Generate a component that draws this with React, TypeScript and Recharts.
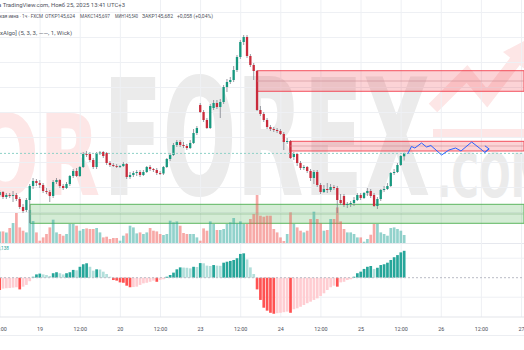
import React from "react";
import {
  ComposedChart,
  Bar,
  Line,
  XAxis,
  YAxis,
  CartesianGrid,
  ReferenceArea,
  ReferenceLine,
  Cell,
} from "recharts";

// ---------- hourly candles (index 0 = 18 Nov 12:00) ----------
const opens = [
  144.85, 144.91, 144.81, 144.85, 144.84, 144.85, 144.77, 144.61, 144.55, 144.75,
  145.03, 145.13, 145.09, 145.05, 144.93, 144.91, 144.83, 145.11, 145.15, 145.03,
  144.99, 145.07, 145.23, 145.33, 145.23, 145.41, 145.67, 145.67, 145.55, 145.41,
  145.69, 145.71, 145.69, 145.49, 145.45, 145.43, 145.42, 145.43, 145.47, 145.21,
  145.25, 145.29, 145.31, 145.25, 145.31, 145.41, 145.37, 145.35, 145.29, 145.28,
  145.41, 145.57, 145.65, 145.85, 145.91, 145.85, 145.83, 145.79, 145.89, 146.09,
  146.65, 146.51, 146.35, 146.19, 146.59, 146.69, 146.61, 146.71, 147.01, 147.11,
  147.15, 147.35, 147.61, 147.91, 148.01, 147.63, 147.45, 147.33, 146.55, 146.47,
  146.35, 146.21, 146.17, 146.15, 146.13, 146.07, 145.91, 145.93, 145.61, 145.67,
  145.49, 145.39, 145.41, 145.33, 145.19, 145.31, 145.05, 144.91, 144.97, 144.95,
  145.01, 144.99, 144.75, 144.83, 144.65, 144.67, 144.69, 144.75, 144.85, 144.79,
  144.89, 144.93, 144.85, 144.63, 144.77, 144.95, 144.97, 145.03, 145.29, 145.31,
  145.45, 145.624,
];
const highs = [
  144.95, 144.93, 144.89, 144.89, 144.93, 144.89, 144.81, 144.67, 144.79, 145.07,
  145.19, 145.17, 145.15, 145.09, 144.99, 144.95, 145.15, 145.19, 145.17, 145.07,
  145.11, 145.25, 145.37, 145.39, 145.43, 145.71, 145.73, 145.71, 145.59, 145.71,
  145.73, 145.73, 145.71, 145.53, 145.49, 145.47, 145.45, 145.51, 145.49, 145.31,
  145.33, 145.35, 145.35, 145.35, 145.43, 145.45, 145.39, 145.39, 145.33, 145.43,
  145.59, 145.69, 145.89, 145.95, 145.95, 145.91, 145.87, 145.95, 146.17, 146.23,
  146.69, 146.55, 146.39, 146.67, 146.75, 146.75, 146.77, 147.05, 147.17, 147.21,
  147.43, 147.65, 147.95, 148.05, 148.05, 147.67, 147.49, 147.35, 146.63, 146.51,
  146.39, 146.25, 146.21, 146.19, 146.17, 146.11, 145.99, 145.95, 145.71, 145.69,
  145.53, 145.45, 145.43, 145.37, 145.35, 145.35, 145.09, 145.05, 145.09, 145.07,
  145.05, 145.03, 144.87, 144.87, 144.71, 144.73, 144.81, 144.89, 144.89, 144.91,
  144.99, 144.97, 144.89, 144.81, 144.97, 145.03, 145.09, 145.31, 145.37, 145.49,
  145.65, 145.697,
];
const lows = [
  144.81, 144.77, 144.77, 144.79, 144.71, 144.73, 144.57, 144.49, 144.51, 144.29,
  144.97, 145.03, 144.99, 144.89, 144.87, 144.71, 144.79, 145.07, 144.99, 144.95,
  144.97, 145.03, 145.19, 145.21, 145.21, 145.39, 145.61, 145.51, 145.37, 145.37,
  145.65, 145.59, 145.45, 145.41, 145.41, 145.39, 145.39, 145.41, 145.17, 145.17,
  145.21, 145.23, 145.21, 145.23, 145.29, 145.33, 145.31, 145.25, 145.25, 145.25,
  145.39, 145.53, 145.63, 145.81, 145.81, 145.79, 145.75, 145.77, 145.87, 146.05,
  146.49, 146.31, 146.17, 146.17, 146.55, 146.57, 146.39, 146.67, 146.91, 147.07,
  147.11, 147.31, 147.57, 147.85, 147.59, 147.41, 147.15, 146.53, 146.43, 146.31,
  146.17, 146.13, 146.11, 146.09, 146.05, 145.75, 145.87, 145.57, 145.55, 145.43,
  145.35, 145.35, 145.29, 145.13, 145.07, 145.01, 144.87, 144.89, 144.89, 144.91,
  144.95, 144.49, 144.65, 144.61, 144.59, 144.61, 144.63, 144.73, 144.75, 144.77,
  144.83, 144.79, 144.61, 144.57, 144.73, 144.91, 144.95, 145.01, 145.25, 145.29,
  145.43, 145.54,
];
const closes = [
  144.91, 144.81, 144.85, 144.84, 144.85, 144.77, 144.61, 144.53, 144.75, 145.03,
  145.13, 145.09, 145.05, 144.93, 144.91, 144.83, 145.11, 145.15, 145.03, 144.99,
  145.07, 145.23, 145.33, 145.23, 145.41, 145.67, 145.66, 145.55, 145.41, 145.69,
  145.70, 145.63, 145.49, 145.45, 145.43, 145.42, 145.43, 145.47, 145.21, 145.25,
  145.29, 145.31, 145.25, 145.31, 145.41, 145.37, 145.35, 145.29, 145.28, 145.41,
  145.57, 145.65, 145.85, 145.91, 145.85, 145.83, 145.79, 145.89, 146.09, 146.19,
  146.51, 146.35, 146.19, 146.63, 146.69, 146.61, 146.71, 147.01, 147.11, 147.15,
  147.35, 147.61, 147.91, 148.01, 147.63, 147.45, 147.33, 146.55, 146.47, 146.35,
  146.21, 146.17, 146.15, 146.13, 146.07, 145.91, 145.93, 145.59, 145.67, 145.49,
  145.39, 145.41, 145.33, 145.19, 145.31, 145.05, 144.91, 144.97, 144.95, 145.01,
  144.99, 144.75, 144.69, 144.65, 144.67, 144.69, 144.75, 144.85, 144.79, 144.89,
  144.93, 144.83, 144.63, 144.77, 144.95, 144.97, 145.03, 145.29, 145.31, 145.45,
  145.63, 145.682,
];
const volumes = [
  1160, 1160, 1060, 1500, 2000, 3000, 1560, 1230, 1060, 3300,
  2200, 1060, 230, 560, 900, 1560, 2330, 1060, 900, 730,
  900, 1900, 1900, 1730, 1230, 1400, 1460, 1400, 1400, 1500,
  1060, 560, 630, 400, 500, 500, 230, 730, 960, 1730,
  1560, 960, 1060, 900, 1060, 1500, 1230, 1160, 900, 800,
  900, 2230, 2060, 2160, 1730, 1000, 900, 900, 900, 560,
  230, 1460, 1230, 2160, 1900, 1300, 1300, 1400, 1900, 2060,
  2500, 1960, 2160, 1900, 1900, 2400, 2900, 4800, 2730, 2630,
  2730, 2730, 1400, 1060, 560, 200, 900, 3060, 1900, 1560,
  1230, 1060, 1230, 2400, 3130, 2400, 1960, 1230, 1300, 2400,
  2400, 3560, 2160, 1400, 1060, 1060, 900, 560, 560, 130,
  400, 830, 1900, 1900, 1060, 900, 730, 1500, 1560, 1400,
  1230, 800,
];
const momentum = [
  -0.063, -0.056, -0.054, -0.053, -0.051, -0.049, -0.06, -0.046, -0.037, -0.018,
  0.005, 0.017, 0.021, 0.017, 0.014, 0.009, 0.023, 0.028, 0.023, 0.017,
  0.023, 0.028, 0.04, 0.038, 0.056, 0.069, 0.074, 0.056, 0.036, 0.043,
  0.042, 0.031, 0.019, 0.005, -0.012, -0.015, -0.024, -0.026, -0.041, -0.049,
  -0.048, -0.046, -0.037, -0.029, -0.026, -0.021, -0.015, -0.021, -0.012, -0.008,
  0.005, 0.014, 0.026, 0.043, 0.053, 0.052, 0.051, 0.048, 0.056, 0.055,
  0.075, 0.074, 0.062, 0.06, 0.065, 0.062, 0.061, 0.077, 0.082, 0.086,
  0.091, 0.1, 0.122, 0.125, 0.094, 0.053, 0.019, -0.06, -0.114, -0.154,
  -0.169, -0.18, -0.185, -0.182, -0.18, -0.177, -0.174, -0.18, -0.162, -0.157,
  -0.149, -0.14, -0.131, -0.123, -0.114, -0.106, -0.094, -0.08, -0.063, -0.049,
  -0.041, -0.046, -0.024, -0.021, -0.012, -0.008, 0.005, 0.023, 0.031, 0.045,
  0.056, 0.06, 0.045, 0.051, 0.065, 0.069, 0.077, 0.091, 0.105, 0.116,
  0.13, 0.138,
];

// projected path (hour index, price)
const projT = [121.9, 123.1, 124.1, 126.1, 127.6, 128.9, 132.1, 134.3, 136.3, 137.9, 141.1, 143.6, 145.1, 146.1];
const projP = [145.67, 145.82, 145.79, 145.89, 145.81, 145.84, 145.65, 145.75, 145.79, 145.73, 145.91, 145.78, 145.7, 145.77];

// time axis
const tickHours = [0, 12, 24, 36, 48, 60, 72, 84, 96, 108, 120, 132, 144, 156];
const tickLabels = ["12:00", "19", "12:00", "20", "12:00", "23", "12:00", "24", "12:00", "25", "12:00", "26", "12:00", "27"];

// zones
const supplyZones = [
  { from: 76.9, top: 147.336, bottom: 146.924, mid: 147.13 },
  { from: 86.75, top: 145.924, bottom: 145.73, mid: 145.83 },
];
const demandZones = [{ from: 9, top: 144.664, bottom: 144.284, mid: 144.47 }];

const priceGrid = [144.0, 144.5, 145.0, 145.5, 146.0, 146.5, 147.0, 147.5, 148.0, 148.5];
const lastClose = 145.682;

// ---------- constants ----------
const W = 524;
const MAIN_H = 243;
const LOW_H = 93;
const X_MAX = 156.75;
const UP = "#17987f";
const DOWN = "#c92c3c";
const WICK = "#80838d";
const GRID = "#eef0f4";
const FONT = "Roboto, 'Noto Sans', sans-serif";

const hours = opens.map((_, i) => i);
const candles = hours.map((t, i) => ({
  t,
  o: opens[i],
  h: highs[i],
  l: lows[i],
  c: closes[i],
  range: [lows[i], highs[i]],
  v: volumes[i],
  m: momentum[i],
}));
const projection = projT.map((t, i) => ({ t, p: projP[i] }));

const momColor = (i: number) => {
  const v = momentum[i];
  const prev = i > 0 ? momentum[i - 1] : v;
  if (v >= 0) return v >= prev ? "#26a69a" : "#b2dfdb";
  return v <= prev ? "#ff5252" : "#ffcdd2";
};

const CandleShape = (props: any) => {
  const { x, y, width, height, payload } = props;
  if (x == null || y == null || !payload) return <g />;
  const { o, c, h, l } = payload;
  const top = Math.min(y, y + height);
  const hPx = Math.abs(height);
  const span = h - l || 1e-9;
  const k = hPx / span;
  const yO = top + (h - o) * k;
  const yC = top + (h - c) * k;
  const up = c >= o;
  const cx = x + width / 2;
  const bTop = Math.min(yO, yC);
  const bH = Math.max(Math.abs(yC - yO), 0.9);
  return (
    <g>
      <line x1={cx} x2={cx} y1={top} y2={top + hPx} stroke={WICK} strokeWidth={0.8} />
      <rect x={cx - width / 2} y={bTop} width={width} height={bH} fill={up ? UP : DOWN} />
    </g>
  );
};

const ArrowDot = (props: any) => {
  const { cx, cy, index } = props;
  if (index !== projection.length - 1 || cx == null) return <g key={`d${index}`} />;
  return (
    <path
      key={`d${index}`}
      d={`M${cx - 3.5},${cy - 3.2} L${cx + 0.8},${cy} L${cx - 3.5},${cy + 3.2}`}
      stroke="#2962ff"
      strokeWidth={1}
      fill="none"
    />
  );
};

const TimeTick = (props: any) => {
  const { x, y, payload } = props;
  const idx = tickHours.indexOf(payload.value);
  return (
    <text x={x} y={y + 13.5} textAnchor="middle" fontSize={5.4} fontFamily={FONT} fill="#4a4d57">
      {idx >= 0 ? tickLabels[idx] : ""}
    </text>
  );
};

export default function App() {
  const wm = "'DejaVu Sans', sans-serif";
  const adj = "spacingAndGlyphs" as const;
  return (
    <div style={{ position: "absolute", left: 0, top: 0, width: W, height: 350, background: "#ffffff", overflow: "hidden" }}>
      {/* watermark */}
      <svg width={W} height={350} style={{ position: "absolute", left: 0, top: 0 }}>
        <text x={-28} y={195} fontSize={113} fontWeight={700} fontFamily={wm} fill="#fde6e6" textLength={128} lengthAdjust={adj}>
          OR
        </text>
        <text x={103} y={195} fontSize={162} fontWeight={700} fontFamily={wm} fill="#ebebeb" textLength={327} lengthAdjust={adj}>
          FOREX
        </text>
        <text x={437} y={197} fontSize={60} fontWeight={700} fontFamily={wm} fill="#ebebeb" textLength={111} lengthAdjust={adj}>
          .COM
        </text>
        <polyline points="433,108 467,74 487,98 516,60" stroke="#fde6e6" strokeWidth={12} fill="none" />
        <polygon points="503,52 530,38 526,70" fill="#fde6e6" />
        <rect x={433} y={129} width={91} height={8} fill="#fde6e6" />
      </svg>

      {/* main pane */}
      <div style={{ position: "absolute", left: 0, top: 0 }}>
        <ComposedChart width={W} height={MAIN_H} data={candles} margin={{ top: 0, right: 0, bottom: 0, left: 0 }}>
          <XAxis xAxisId="px" dataKey="t" type="number" domain={[0, X_MAX]} hide allowDataOverflow />
          <XAxis xAxisId="vx" dataKey="t" type="number" domain={[0, X_MAX]} hide allowDataOverflow />
          <YAxis yAxisId="py" domain={[143.89, 148.75]} hide allowDataOverflow />
          <YAxis yAxisId="vy" domain={[0, 24300]} hide allowDataOverflow />
          <CartesianGrid
            xAxisId="px"
            yAxisId="py"
            stroke={GRID}
            horizontalValues={priceGrid}
            verticalValues={tickHours}
          />
          {supplyZones.map((z, i) => (
            <ReferenceArea
              key={`s${i}`}
              xAxisId="px"
              yAxisId="py"
              x1={z.from}
              x2={X_MAX}
              y1={z.bottom}
              y2={z.top}
              fill="#f23645"
              fillOpacity={0.22}
              stroke="#f23645"
              strokeOpacity={0.85}
              strokeWidth={1}
            />
          ))}
          {supplyZones.map((z, i) => (
            <ReferenceLine
              key={`sm${i}`}
              xAxisId="px"
              yAxisId="py"
              segment={[{ x: z.from, y: z.mid }, { x: X_MAX, y: z.mid }]}
              stroke="#c98a8f"
              strokeOpacity={0.7}
              strokeWidth={0.8}
            />
          ))}
          {demandZones.map((z, i) => (
            <ReferenceArea
              key={`d${i}`}
              xAxisId="px"
              yAxisId="py"
              x1={z.from}
              x2={X_MAX}
              y1={z.bottom}
              y2={z.top}
              fill="#4caf50"
              fillOpacity={0.24}
              stroke="#4caf50"
              strokeOpacity={0.9}
              strokeWidth={1}
            />
          ))}
          {demandZones.map((z, i) => (
            <ReferenceLine
              key={`dm${i}`}
              xAxisId="px"
              yAxisId="py"
              segment={[{ x: z.from, y: z.mid }, { x: X_MAX, y: z.mid }]}
              stroke="#8fb98f"
              strokeOpacity={0.8}
              strokeWidth={0.8}
            />
          ))}
          <Bar xAxisId="vx" yAxisId="vy" dataKey="v" barSize={2.7} isAnimationActive={false}>
            {candles.map((d, i) => (
              <Cell key={`v${i}`} fill={d.c >= d.o ? "#26a69a" : "#ef5350"} fillOpacity={0.5} />
            ))}
          </Bar>
          <ReferenceLine xAxisId="px" yAxisId="py" y={lastClose} stroke="#8fd2c7" strokeDasharray="2 2" />
          <Bar xAxisId="px" yAxisId="py" dataKey="range" barSize={2.3} shape={CandleShape} isAnimationActive={false} />
          <Line
            xAxisId="px"
            yAxisId="py"
            data={projection}
            dataKey="p"
            type="linear"
            stroke="#2962ff"
            strokeWidth={1}
            dot={ArrowDot}
            activeDot={false}
            isAnimationActive={false}
          />
        </ComposedChart>
      </div>

      {/* pane separator */}
      <div style={{ position: "absolute", left: 0, top: MAIN_H, width: W, height: 1, background: "#e6e8ee" }} />

      {/* histogram pane + time axis */}
      <div style={{ position: "absolute", left: 0, top: MAIN_H }}>
        <ComposedChart width={W} height={LOW_H} data={candles} margin={{ top: 0, right: 0, bottom: 0, left: 0 }}>
          <XAxis
            dataKey="t"
            type="number"
            domain={[0, X_MAX]}
            ticks={tickHours}
            interval={0}
            height={19}
            tickLine={false}
            tickSize={0}
            tickMargin={0}
            axisLine={{ stroke: "#e3e5ea" }}
            tick={<TimeTick />}
            allowDataOverflow
          />
          <YAxis domain={[-0.2016, 0.178]} hide allowDataOverflow />
          <CartesianGrid stroke={GRID} horizontalValues={[-0.1, 0.1]} verticalValues={tickHours} />
          <ReferenceLine y={0} stroke="#b9bcc5" strokeDasharray="2 2" />
          <Bar dataKey="m" barSize={2.7} isAnimationActive={false}>
            {candles.map((d, i) => (
              <Cell key={`m${i}`} fill={momColor(i)} />
            ))}
          </Bar>
        </ComposedChart>
      </div>

      <div style={{ position: "absolute", left: 0, top: 335, width: W, height: 1, background: "#eceef2" }} />

      {/* legend texts */}
      <svg width={W} height={350} style={{ position: "absolute", left: 0, top: 0, pointerEvents: "none" }}>
        <g fontFamily={FONT} fontSize={5} fill="#50535e">
          <text x={-5.5} y={7} textLength={130.5} lengthAdjust={adj}>на TradingView.com, Нояб 25, 2025 13:41 UTC+3</text>
          <text x={-13.5} y={18} textLength={56.5} lengthAdjust={adj}>Японская иена · 1ч · FXCM</text>
          <text x={45} y={18} textLength={30} lengthAdjust={adj}>ОТКР145,624</text>
          <text x={80} y={18} textLength={30} lengthAdjust={adj}>МАКС145,697</text>
          <text x={115} y={18} textLength={23} lengthAdjust={adj}>МИН145,540</text>
          <text x={142} y={18} textLength={31} lengthAdjust={adj}>ЗАКР145,682</text>
          <text x={177} y={18} textLength={36} lengthAdjust={adj}>+0,058 (+0,04%)</text>
          <text x={-8} y={35} textLength={80} lengthAdjust={adj}>[LuxAlgo] (5, 3, 3, ——, 1, Wick)</text>
        </g>
        <text x={-2.5} y={250} textLength={11.5} lengthAdjust={adj} fontFamily={FONT} fontSize={5} fill="#26a69a">
          0,138
        </text>
      </svg>
    </div>
  );
}
